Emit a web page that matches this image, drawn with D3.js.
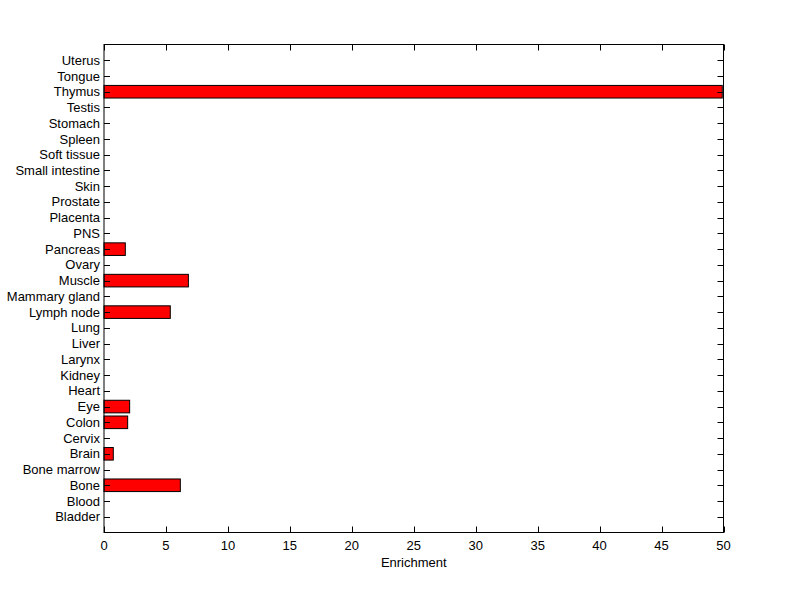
<!DOCTYPE html>
<html><head><meta charset="utf-8">
<script src="https://cdn.jsdelivr.net/npm/d3@7"></script>
<style>body{margin:0;background:#fff}svg{display:block}text{font-family:"Liberation Sans",Arial,sans-serif;font-size:13px;fill:#000}</style>
</head><body>
<script>
const categories = ["Bladder","Blood","Bone","Bone marrow","Brain","Cervix","Colon","Eye","Heart","Kidney","Larynx","Liver","Lung","Lymph node","Mammary gland","Muscle","Ovary","Pancreas","PNS","Placenta","Prostate","Skin","Small intestine","Soft tissue","Spleen","Stomach","Testis","Thymus","Tongue","Uterus"];
const values = [0,0,6.16,0,0.75,0,1.91,2.07,0,0,0,0,0,5.35,0,6.81,0,1.72,0,0,0,0,0,0,0,0,0,49.9,0,0];
const xTicks = [0,5,10,15,20,25,30,35,40,45,50];
const xLabel = "Enrichment";

const W=800,H=599;
const L=104,R=723.5,T=44.5,B=532.5;
const svg=d3.select("body").append("svg").attr("width",W).attr("height",H);
svg.append("rect").attr("width",W).attr("height",H).attr("fill","#fff");
const x=d3.scaleLinear().domain([0,50]).range([L,R]);
const y=d3.scaleLinear().domain([0,categories.length+1]).range([B,T]);
const bh=(y(0)-y(0.8));

svg.append("g").selectAll("rect").data(values).join("rect")
  .attr("x",x(0)).attr("y",(d,i)=>y(i+1)-bh/2)
  .attr("width",d=>x(d)-x(0)).attr("height",bh)
  .attr("fill",d=>d>0?"#ff0000":"none").attr("stroke",d=>d>0?"#000":"none").attr("stroke-width",1);

const tl=6;
const g=svg.append("g").attr("stroke","#000").attr("stroke-width",1).attr("fill","none");
g.append("rect").attr("x",L).attr("y",T).attr("width",R-L).attr("height",B-T);
xTicks.forEach(t=>{
  const xx=Math.round(x(t))+0.5;
  g.append("line").attr("x1",xx).attr("x2",xx).attr("y1",B).attr("y2",B-tl);
  g.append("line").attr("x1",xx).attr("x2",xx).attr("y1",T).attr("y2",T+tl);
});
categories.forEach((c,i)=>{
  const yy=Math.round(y(i+1))+0.5;
  g.append("line").attr("x1",L).attr("x2",L+tl).attr("y1",yy).attr("y2",yy);
  g.append("line").attr("x1",R).attr("x2",R-tl).attr("y1",yy).attr("y2",yy);
});
svg.append("g").selectAll("text").data(xTicks).join("text")
  .attr("x",d=>x(d)).attr("y",B+17).attr("text-anchor","middle").text(d=>d);
svg.append("g").selectAll("text").data(categories).join("text")
  .attr("x",L-4).attr("y",(d,i)=>y(i+1)).attr("dy","0.35em").attr("text-anchor","end").text(d=>d);
svg.append("text").attr("x",(L+R)/2).attr("y",B+34).attr("text-anchor","middle").text(xLabel);
</script>
</body></html>
